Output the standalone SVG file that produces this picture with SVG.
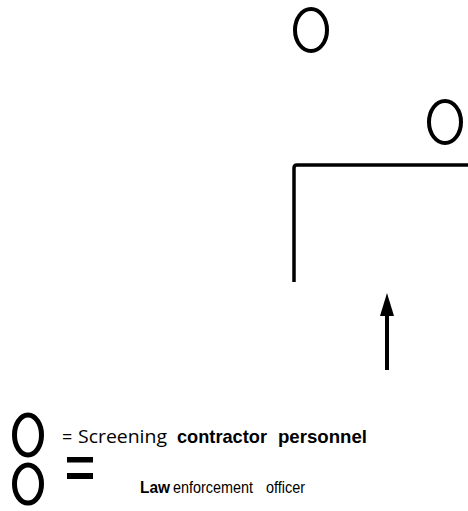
<svg xmlns="http://www.w3.org/2000/svg" width="468" height="511" viewBox="0 0 468 511">
<style>
.o{fill:none;stroke:#000;stroke-width:4}
.ln{fill:none;stroke:#000;stroke-width:3.5}
.t{font-family:"Open Sans","Liberation Sans",sans-serif;font-size:18px;fill:#000}
.b{font-family:"Liberation Sans",Arial,sans-serif;font-weight:bold;font-size:19px;fill:#000}
.l{font-family:"Liberation Sans",Arial,sans-serif;font-size:17px;fill:#000}
</style>
<rect width="468" height="511" fill="#fff"/>
<g id="officer-top"><ellipse class="o" cx="311" cy="30" rx="16" ry="21"/></g>
<g id="officer-right"><ellipse class="o" cx="445" cy="122" rx="16" ry="21"/></g>
<g id="wall"><path class="ln" d="M294,282 V168 Q294,165 297,165 H468"/></g>
<g id="connectors">
<line x1="387" y1="370" x2="387" y2="315" stroke="#000" stroke-width="4"/>
<path d="M380,316 L387,293 L394,316 Z" fill="#000"/>
</g>
<g id="legend">
<ellipse cx="28" cy="435" rx="13.5" ry="20" fill="none" stroke="#000" stroke-width="5"/>
<ellipse cx="28" cy="484" rx="13.5" ry="19" fill="none" stroke="#000" stroke-width="5"/>
<text class="t" x="62" y="443" font-size="15">=</text>
<text class="t" x="78" y="443" textLength="89" lengthAdjust="spacingAndGlyphs">Screening</text>
<text class="b" x="177" y="443" textLength="90" lengthAdjust="spacingAndGlyphs">contractor</text>
<text class="b" x="278" y="443" textLength="89" lengthAdjust="spacingAndGlyphs">personnel</text>
<rect x="67" y="457" width="26" height="5.5" fill="#000"/>
<rect x="67" y="473" width="26" height="6" fill="#000"/>
<text class="l" x="140" y="492.5" font-weight="bold" textLength="30" lengthAdjust="spacingAndGlyphs">Law</text>
<text class="l" x="173" y="492.5" textLength="80" lengthAdjust="spacingAndGlyphs">enforcement</text>
<text class="l" x="266" y="492.5" textLength="39" lengthAdjust="spacingAndGlyphs">officer</text>
</g>
</svg>
